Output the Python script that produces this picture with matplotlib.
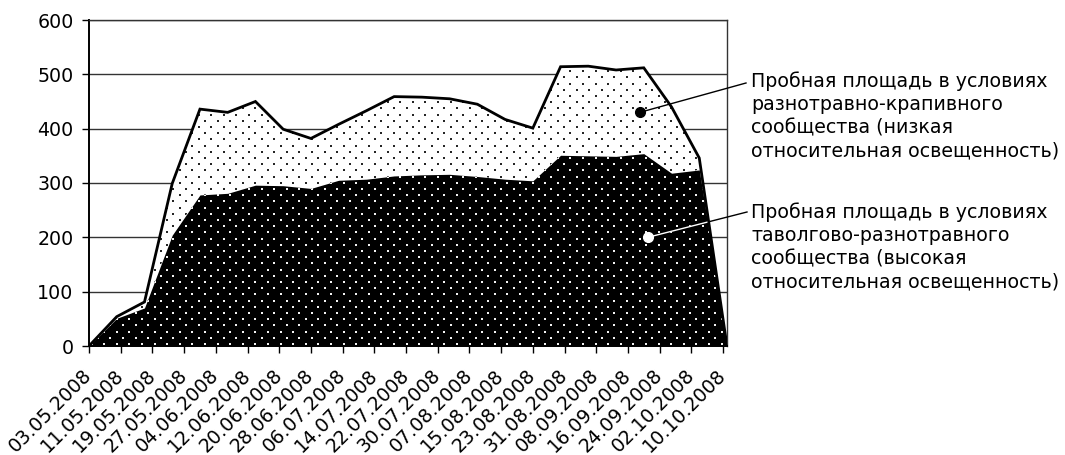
import numpy as np
import matplotlib
matplotlib.use("Agg")
import matplotlib.pyplot as plt
import matplotlib.dates as mdates
from datetime import datetime

plt.rcParams['font.family'] = ['DejaVu Sans']

# weekly observations
dates = ["03.05.2008", "10.05.2008", "17.05.2008", "24.05.2008", "31.05.2008",
         "07.06.2008", "14.06.2008", "21.06.2008", "28.06.2008", "05.07.2008",
         "12.07.2008", "19.07.2008", "26.07.2008", "02.08.2008", "09.08.2008",
         "16.08.2008", "23.08.2008", "30.08.2008", "06.09.2008", "13.09.2008",
         "20.09.2008", "27.09.2008", "04.10.2008", "11.10.2008"]
# разнотравно-крапивное сообщество (низкая освещенность)
low_light = [0, 54, 81, 299, 436, 430, 450, 399, 382, 408, 433, 459,
             458, 455, 445, 417, 401, 514, 515, 508, 512, 440, 346, 0]
# таволгово-разнотравное сообщество (высокая освещенность)
high_light = [0, 51, 70, 204, 278, 281, 296, 295, 290, 305, 307, 313,
              315, 316, 312, 307, 304, 351, 350, 349, 354, 318, 324, 0]

tick_labels = ["03.05.2008", "11.05.2008", "19.05.2008", "27.05.2008", "04.06.2008",
               "12.06.2008", "20.06.2008", "28.06.2008", "06.07.2008", "14.07.2008",
               "22.07.2008", "30.07.2008", "07.08.2008", "15.08.2008", "23.08.2008",
               "31.08.2008", "08.09.2008", "16.09.2008", "24.09.2008", "02.10.2008",
               "10.10.2008"]

label_low = ("Пробная площадь в условиях\nразнотравно-крапивного\n"
             "сообщества (низкая\nотносительная освещенность)")
label_high = ("Пробная площадь в условиях\nтаволгово-разнотравного\n"
              "сообщества (высокая\nотносительная освещенность)")
marker_dates = ["19.09.2008", "21.09.2008"]
marker_vals = [430, 200]

to_dt = lambda s: datetime.strptime(s, "%d.%m.%Y")
x = mdates.date2num([to_dt(d) for d in dates])
xt = mdates.date2num([to_dt(d) for d in tick_labels])
xm = mdates.date2num([to_dt(d) for d in marker_dates])

W, H = 1065, 455
fig = plt.figure(figsize=(W / 100, H / 100), dpi=100)
ax = fig.add_axes([89 / W, (H - 346) / H, 638 / W, 326 / H])
x0, x1 = x[0], x[-1]
ax.set_xlim(x0, x1)
ax.set_ylim(0, 600)


def dot_texture(h, w, color):
    img = np.zeros((h, w, 4))
    for i, yy in enumerate(np.arange(1, h, 6.2)):
        for xx in np.arange(2 + (i % 2) * 6.3, w, 12.6):
            img[int(yy):int(yy) + 2, int(xx):int(xx) + 2] = color
    return img


ah, aw = 326, 638
poly_low = ax.fill_between(x, low_light, color="white", lw=0, zorder=2)
im1 = ax.imshow(dot_texture(ah, aw, (0.15, 0.15, 0.15, 1)), extent=[x0, x1, 0, 600],
                aspect="auto", interpolation="nearest", zorder=2.1)
im1.set_clip_path(poly_low.get_paths()[0], poly_low.get_transform())

poly_high = ax.fill_between(x, high_light, color="black", lw=0, zorder=3)
im2 = ax.imshow(dot_texture(ah, aw, (0.95, 0.95, 0.95, 1)), extent=[x0, x1, 0, 600],
                aspect="auto", interpolation="nearest", zorder=3.1)
im2.set_clip_path(poly_high.get_paths()[0], poly_high.get_transform())

ax.plot(x, low_light, color="black", lw=2.0, zorder=4, solid_joinstyle="miter")

ax.set_yticks(np.arange(0, 700, 100))
ax.yaxis.grid(True, color="#333333", lw=1.0)
ax.set_axisbelow(True)
ax.set_xticks(xt)
ax.set_xticklabels(tick_labels, rotation=45, ha="right", va="center",
                   rotation_mode="anchor")
ax.tick_params(axis="both", direction="out", length=5, width=1.0,
               labelsize=13.7, color="black")
ax.tick_params(axis="y", pad=6)
ax.tick_params(axis="x", pad=14)
for s in ["left", "bottom"]:
    ax.spines[s].set_linewidth(1.4)
for s in ["top", "right"]:
    ax.spines[s].set_color("#333333")
    ax.spines[s].set_linewidth(1.0)

# callouts: leader line ends next to the text blocks (figure pixels -> data)
inv = ax.transData.inverted()
end1 = inv.transform((746, H - 83))
end2 = inv.transform((747, H - 212))

ax.plot([xm[0], end1[0]], [marker_vals[0], end1[1]], color="black", lw=1.0,
        zorder=5, clip_on=False)
ax.plot([xm[1], end2[0]], [marker_vals[1], end2[1]], color="black", lw=1.0,
        zorder=5, clip_on=False)
wl, = ax.plot([xm[1], end2[0]], [marker_vals[1], end2[1]], color="white", lw=1.0,
              zorder=5.5)
wl.set_clip_path(poly_high.get_paths()[0], poly_high.get_transform())

ax.plot(xm[0], marker_vals[0], "o", color="black", ms=7, zorder=6)
ax.plot(xm[1], marker_vals[1], "o", color="white", mec="white", ms=7, zorder=6)

fig.text(751 / W, (H - 116) / H, label_low, fontsize=13.7, va="center", ha="left",
         linespacing=1.26)
fig.text(751 / W, (H - 247) / H, label_high, fontsize=13.7, va="center", ha="left",
         linespacing=1.26)

fig.savefig("out.png", dpi=100)
